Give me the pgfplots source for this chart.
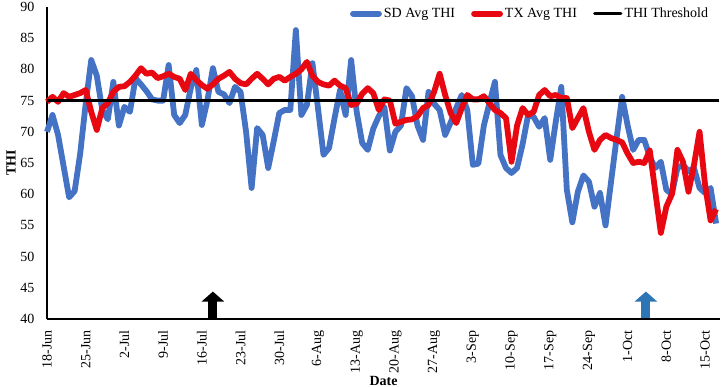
\documentclass[border=0pt]{standalone}
\usepackage{pgfplots}
\pgfplotsset{compat=1.18}
\usepackage{pgfplotstable}
\usepackage{fontspec}
\setmainfont{Liberation Serif}
\usetikzlibrary{arrows.meta}
\definecolor{sdblue}{RGB}{68,114,196}
\definecolor{txred}{RGB}{232,8,18}
\definecolor{arrblue}{RGB}{46,117,182}

\pgfplotstableread{
d v
0 70.0
1 72.7
2 69.5
3 64.5
4 59.5
5 60.5
6 66.5
7 74.5
8 81.5
9 79.0
10 73.5
11 72.0
12 78.0
13 71.0
14 74.0
15 73.2
16 78.6
17 77.6
18 76.5
19 75.2
20 75.0
21 75.0
22 80.7
23 72.7
24 71.4
25 72.7
26 77.0
27 79.9
28 71.1
29 75.0
30 80.2
31 76.4
32 76.0
33 74.6
34 77.2
35 76.4
36 70.0
37 61.0
38 70.6
39 69.5
40 64.2
41 68.5
42 73.0
43 73.5
44 73.5
45 86.3
46 72.7
47 74.3
48 81.0
49 73.8
50 66.3
51 67.4
52 72.2
53 76.7
54 72.7
55 81.5
56 73.2
57 68.2
58 67.1
59 70.5
60 72.5
61 74.0
62 67.0
63 70.0
64 71.0
65 77.0
66 75.7
67 71.0
68 68.7
69 76.4
70 74.5
71 73.5
72 69.5
73 71.5
74 73.8
75 75.9
76 73.5
77 64.7
78 64.9
79 71.0
80 74.6
81 78.0
82 66.3
83 64.2
84 63.4
85 64.2
86 68.0
87 72.7
88 72.4
89 70.8
90 72.2
91 65.5
92 71.6
93 77.2
94 60.7
95 55.5
96 60.4
97 63.0
98 62.0
99 58.0
100 60.2
101 55.0
102 62.0
103 69.0
104 75.6
105 71.0
106 67.1
107 68.7
108 68.7
109 66.0
110 64.2
111 65.2
112 60.7
113 60.0
114 64.2
115 64.7
116 63.7
117 64.2
118 61.0
119 60.2
120 61.0
121 55.3
}\sdtable

\pgfplotstableread{
d v
0 74.8
1 75.6
2 74.8
3 76.2
4 75.6
5 75.9
6 76.2
7 76.7
8 73.2
9 70.3
10 73.8
11 74.6
12 76.4
13 77.2
14 77.3
15 78.0
16 79.0
17 80.2
18 79.3
19 79.5
20 78.6
21 78.9
22 79.3
23 78.8
24 78.5
25 76.7
26 79.3
27 78.3
28 77.5
29 76.9
30 77.6
31 78.5
32 79.0
33 79.6
34 78.5
35 77.8
36 77.6
37 78.5
38 79.3
39 78.5
40 77.6
41 78.5
42 78.8
43 78.2
44 78.8
45 79.3
46 80.0
47 81.2
48 79.0
49 78.0
50 77.6
51 77.4
52 78.2
53 77.4
54 77.0
55 74.3
56 74.5
57 76.1
58 77.0
59 76.2
60 73.5
61 75.2
62 75.0
63 71.3
64 71.6
65 71.9
66 72.0
67 72.5
68 73.8
69 74.3
70 76.4
71 79.3
72 75.9
73 73.0
74 71.4
75 73.8
76 75.9
77 75.2
78 75.2
79 75.7
80 74.6
81 73.5
82 73.0
83 72.2
84 65.2
85 71.0
86 73.8
87 72.7
88 73.2
89 75.9
90 76.7
91 75.7
92 75.9
93 75.4
94 75.4
95 70.6
96 72.2
97 73.8
98 70.0
99 67.1
100 68.7
101 69.5
102 69.0
103 68.7
104 68.3
105 66.5
106 65.0
107 65.2
108 65.0
109 67.0
110 60.4
111 53.8
112 58.0
113 60.0
114 67.1
115 65.2
116 60.4
117 64.7
118 70.0
119 61.5
120 55.8
121 57.6
}\txtable

\begin{document}
\begin{tikzpicture}
\begin{axis}[
  scale only axis,
  width=673bp, height=312bp,
  xmin=0, xmax=121.7,
  ymin=40, ymax=90,
  axis x line=bottom, axis y line=left,
  axis line style={-, line width=2.4bp, black},
  xtick={0,7,14,21,28,35,42,49,56,63,70,77,84,91,98,105,112,119},
  xticklabels={18-Jun,25-Jun,2-Jul,9-Jul,16-Jul,23-Jul,30-Jul,6-Aug,13-Aug,20-Aug,27-Aug,3-Sep,10-Sep,17-Sep,24-Sep,1-Oct,8-Oct,15-Oct},
  ytick={40,45,...,90},
  major tick length=0pt,
  /pgf/number format/assume math mode=true,
  tick label style={font=\fontsize{14bp}{16bp}\selectfont},
  x tick label style={rotate=90, anchor=east},
  xticklabel shift=8bp,
  yticklabel shift=9bp,
  xlabel={Date}, ylabel={THI},
  label style={font=\fontsize{14bp}{16bp}\selectfont\bfseries},
  xlabel style={yshift=4bp},
  ylabel style={yshift=-2bp},
  legend style={at={(0.99,1.01)}, anchor=north east, draw=none, fill=none,
    legend columns=3, font=\fontsize{14bp}{16bp}\selectfont,
    /tikz/every even column/.append style={column sep=14bp}},
  legend image code/.code={\draw[#1, line cap=round] (0bp,0bp) -- (26bp,0bp);},
  clip=false,
]
\addplot[sdblue, line width=5.8bp, line join=round] table[x=d, y=v] {\sdtable};
\addlegendentry{SD Avg THI}
\addplot[txred, line width=5.8bp, line join=round] table[x=d, y=v] {\txtable};
\addlegendentry{TX Avg THI}
\addplot[black, line width=3.5bp] coordinates {(0,75) (121.5,75)};
\addlegendentry{THI Threshold}
\addplot[forget plot, black, line width=9bp, -{Triangle[width=22bp,length=10bp]}] coordinates {(30,40.2) (30,44.4)};
\addplot[forget plot, arrblue, line width=9bp, -{Triangle[width=22bp,length=10bp]}] coordinates {(108.3,40.2) (108.3,44.4)};
\end{axis}
\pgfresetboundingbox
\path (-47bp,-68bp) rectangle (675bp,319bp);
\end{tikzpicture}
\end{document}
